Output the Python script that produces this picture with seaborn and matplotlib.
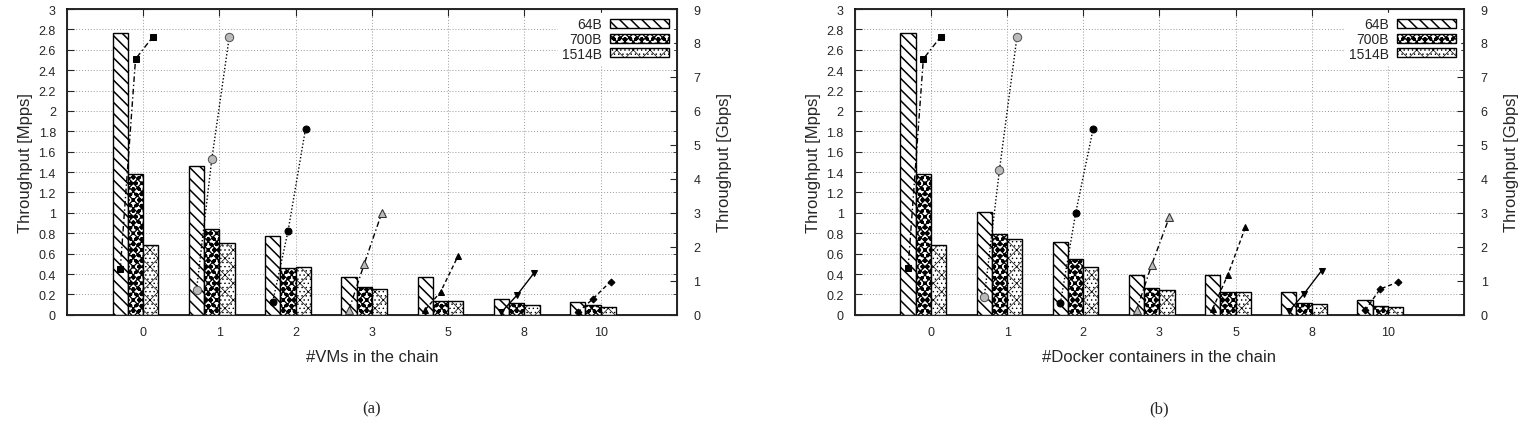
import numpy as np
import pandas as pd
import matplotlib.pyplot as plt
import seaborn as sns
from matplotlib.patches import Patch

chain_lengths = ['0', '1', '2', '3', '5', '8', '10']
frame_sizes = ['64B', '700B', '1514B']

# (a) VMs in the chain - throughput in Mpps (bars)
vm_mpps_64 = [2.76, 1.46, 0.77, 0.37, 0.37, 0.16, 0.13]
vm_mpps_700 = [1.38, 0.84, 0.46, 0.27, 0.14, 0.12, 0.10]
vm_mpps_1514 = [0.68, 0.70, 0.47, 0.25, 0.14, 0.10, 0.08]
# (a) throughput in Gbps (lines)
vm_gbps_64 = [1.35, 0.74, 0.39, 0.15, 0.15, 0.08, 0.07]
vm_gbps_700 = [7.53, 4.58, 2.46, 1.50, 0.67, 0.57, 0.47]
vm_gbps_1514 = [8.19, 8.19, 5.48, 3.00, 1.73, 1.24, 0.98]

# (b) Docker containers in the chain
dk_mpps_64 = [2.76, 1.01, 0.71, 0.39, 0.39, 0.22, 0.15]
dk_mpps_700 = [1.38, 0.79, 0.55, 0.26, 0.22, 0.12, 0.09]
dk_mpps_1514 = [0.68, 0.74, 0.47, 0.24, 0.22, 0.11, 0.08]
dk_gbps_64 = [1.37, 0.52, 0.34, 0.13, 0.18, 0.10, 0.13]
dk_gbps_700 = [7.53, 4.27, 2.99, 1.48, 1.18, 0.62, 0.76]
dk_gbps_1514 = [8.19, 8.19, 5.47, 2.87, 2.58, 1.30, 0.96]

hatches = {'64B': '\\\\\\', '700B': 'xxxxooo', '1514B': 'xx....'}
hatch_lw = {'64B': 1.1, '700B': 0.9, '1514B': 0.5}
line_styles = [
    dict(marker='s', linestyle=(0, (4, 2, 1, 2)), mfc='black', ms=5),
    dict(marker='o', linestyle=(0, (1, 1.5)), mfc='#bbbbbb', mec='#555555', ms=6),
    dict(marker='o', linestyle=(0, (1, 1.5)), mfc='black', ms=5),
    dict(marker='^', linestyle=(0, (4, 2, 1, 2)), mfc='#bbbbbb', mec='#333333', ms=6),
    dict(marker='^', linestyle=(0, (3, 2)), mfc='black', ms=4),
    dict(marker='v', linestyle='-', mfc='black', ms=5),
    dict(marker='D', linestyle=(0, (3, 2)), mfc='black', ms=3.5),
]
point_offsets = [-0.3, -0.1, 0.13]

sns.set_style('white')
plt.rcParams['font.family'] = ['Liberation Sans', 'DejaVu Sans']
plt.rcParams['hatch.linewidth'] = 0.8


def style_patch(p, size):
    p.set_hatch(hatches[size])
    p.set_facecolor('white')
    p.set_fill(True)
    p.set_edgecolor('black')
    p.set_linewidth(1.0)
    if hasattr(p, 'set_hatch_linewidth'):
        p.set_hatch_linewidth(hatch_lw[size])


def draw_panel(ax, mpps, gbps, xlabel, caption):
    df = pd.DataFrame({
        'chain': chain_lengths * 3,
        'size': np.repeat(frame_sizes, len(chain_lengths)),
        'mpps': mpps[0] + mpps[1] + mpps[2],
    })
    # a 4th empty hue level keeps the gnuplot-like left-shifted grouping
    sns.barplot(data=df, x='chain', y='mpps', hue='size',
                hue_order=frame_sizes + ['_gap'], order=chain_lengths,
                width=0.8, gap=0, fill=False, color='black',
                legend=False, ax=ax, zorder=3)
    for cont, size in zip(ax.containers, frame_sizes):
        for p in cont.patches:
            style_patch(p, size)

    ax.set_xlim(-1, 7)
    ax.set_ylim(0, 3)
    ax.set_yticks(np.arange(0, 3.01, 0.2))
    ax.set_yticklabels(['0'] + [f'{v:g}' for v in np.arange(0.2, 3.01, 0.2).round(1)])
    ax.set_xlabel(xlabel, fontsize=12, labelpad=8)
    ax.set_ylabel('Throughput [Mpps]', fontsize=12)
    ax.grid(True, linestyle=(0, (1, 2)), color='#999999', linewidth=0.7, zorder=0)
    ax.tick_params(axis='both', direction='in', labelsize=9, length=5,
                   top=True, right=False, pad=8)
    for s in ax.spines.values():
        s.set_linewidth(1.2)
        s.set_color('black')

    ax2 = ax.twinx()
    for i, st in enumerate(line_styles):
        xs = [i + o for o in point_offsets]
        ys = [gbps[0][i], gbps[1][i], gbps[2][i]]
        sns.lineplot(x=xs, y=ys, ax=ax2, color='black', linewidth=1.0,
                     marker=st['marker'], linestyle=st['linestyle'],
                     markerfacecolor=st['mfc'],
                     markeredgecolor=st.get('mec', 'black'),
                     markersize=st['ms'], sort=False, zorder=5)
    ax2.set_ylim(0, 9)
    ax2.set_yticks(range(0, 10))
    ax2.set_yticks(np.arange(0, 9, 0.6), minor=True)
    ax2.tick_params(axis='y', which='major', direction='in', labelsize=9, length=5, pad=12)
    ax2.tick_params(axis='y', which='minor', direction='in', length=3)
    ax2.set_ylabel('Throughput [Gbps]', fontsize=12, labelpad=12)
    ax2.set_xlim(-1, 7)

    handles = []
    for s in frame_sizes:
        h = Patch(facecolor='white', edgecolor='black', hatch=hatches[s], label=s)
        handles.append(h)
    leg = ax2.legend(handles=handles, loc='upper right', markerfirst=False,
                     fontsize=10, handlelength=4.2, handleheight=0.6,
                     labelspacing=0.05, borderpad=0.3, handletextpad=0.6,
                     frameon=True, framealpha=1, edgecolor='white',
                     fancybox=False, borderaxespad=0.3)
    for h, s in zip(leg.get_patches(), frame_sizes):
        if hasattr(h, 'set_hatch_linewidth'):
            h.set_hatch_linewidth(hatch_lw[s])
    ax.text(0.5, -0.28, caption, transform=ax.transAxes, ha='center', va='top',
            fontsize=12, family=['Liberation Serif', 'DejaVu Serif'])


fig = plt.figure(figsize=(15.21, 4.35), dpi=100)
ax_a = fig.add_axes([0.044, 0.274, 0.401, 0.703])
ax_b = fig.add_axes([0.562, 0.274, 0.4005, 0.703])

draw_panel(ax_a, [vm_mpps_64, vm_mpps_700, vm_mpps_1514],
           [vm_gbps_64, vm_gbps_700, vm_gbps_1514],
           '#VMs in the chain', '(a)')
draw_panel(ax_b, [dk_mpps_64, dk_mpps_700, dk_mpps_1514],
           [dk_gbps_64, dk_gbps_700, dk_gbps_1514],
           '#Docker containers in the chain', '(b)')

fig.savefig('out.png', dpi=100)
